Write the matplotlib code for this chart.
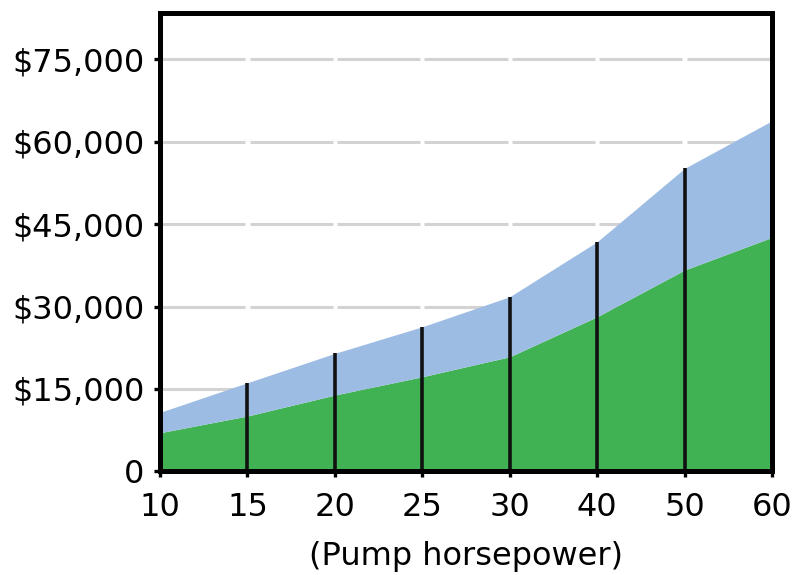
import matplotlib.pyplot as plt

# pump sizes (evenly spaced categories)
hp_labels = ['10', '15', '20', '25', '30', '40', '50', '60']
# lower band (green) and upper edge of the blue band, in dollars
green_vals = [7030, 10070, 13890, 17220, 20860, 28150, 36650, 42600]
total_vals = [10740, 16130, 21480, 26320, 31790, 41800, 55160, 63830]
y_ticks = [0, 15000, 30000, 45000, 60000, 75000]
y_labels = ['0', '$15,000', '$30,000', '$45,000', '$60,000', '$75,000']

plt.rcParams['font.family'] = ['DejaVu Sans']

fig = plt.figure(figsize=(7.94, 5.75), dpi=100)
ax = fig.add_axes([0.2015, 0.1803, 0.7708, 0.7976])

x = list(range(len(hp_labels)))

# grid lines, broken at every category position
gap = 0.025
for yt in y_ticks[1:]:
    for i in range(len(x) - 1):
        ax.plot([x[i] + gap, x[i + 1] - gap], [yt, yt], color='#d3d3d3',
                lw=2.2, solid_capstyle='butt', zorder=1)

ax.fill_between(x, 0, green_vals, color='#41b254', lw=0, zorder=2)
ax.fill_between(x, green_vals, total_vals, color='#9dbce3', lw=0, zorder=2)
ax.vlines(x[1:-1], 0, total_vals[1:-1], color='#111111', lw=2.6, zorder=3)

ax.set_xlim(0, len(x) - 1)
ax.set_ylim(0, 83500)
ax.set_xticks(x)
ax.set_xticklabels(hp_labels)
ax.set_yticks(y_ticks)
ax.set_yticklabels(y_labels)

for s in ax.spines.values():
    s.set_linewidth(3.6)
    s.set_color('black')
    s.set_zorder(4)

ax.tick_params(axis='both', labelsize=23, width=2.4, length=4, color='black')
ax.tick_params(axis='y', pad=7)
ax.tick_params(axis='x', pad=11)
ax.set_xlabel('(Pump horsepower)', fontsize=23, labelpad=13)

fig.savefig('out.png', dpi=100)
